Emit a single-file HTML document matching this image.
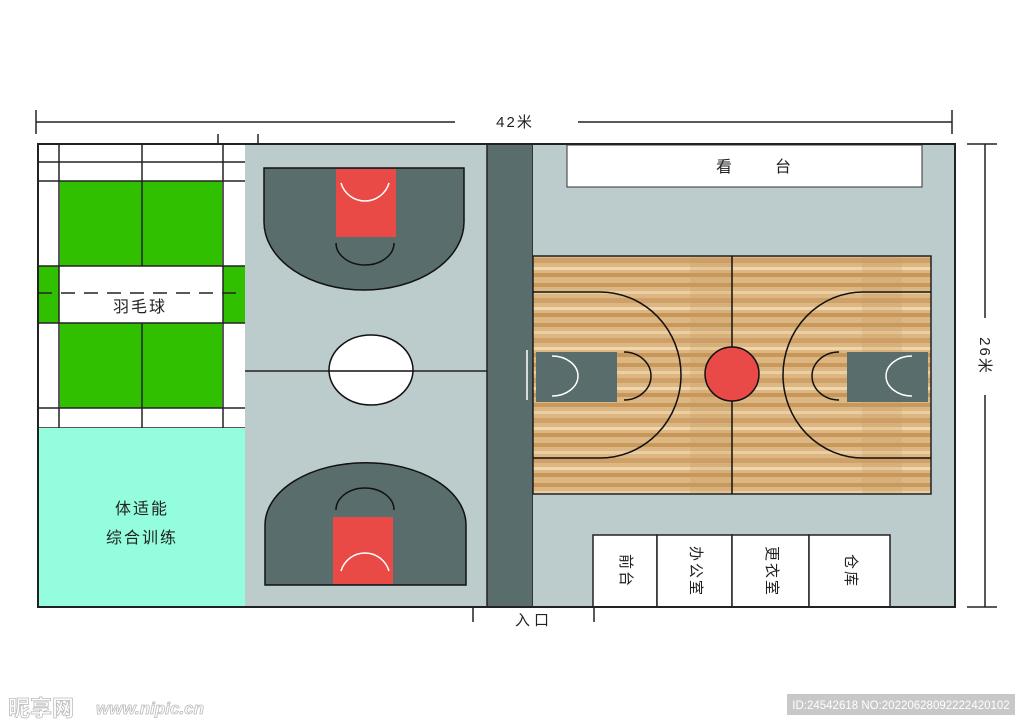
<!DOCTYPE html>
<html><head><meta charset="utf-8"><style>
html,body{margin:0;padding:0;background:#fff;width:1024px;height:724px;overflow:hidden}
svg{display:block}
text{font-family:"Liberation Sans","Noto Sans CJK SC",sans-serif}
.v{writing-mode:vertical-rl;text-orientation:sideways;position:absolute;font-family:"Liberation Sans","Noto Sans CJK SC",sans-serif;font-size:15px;color:#222;letter-spacing:2px}
</style></head><body>
<div style="position:relative;width:1024px;height:724px">
<svg width="1024" height="724" viewBox="0 0 1024 724">
<defs>
<pattern id="wood" width="60" height="40" patternUnits="userSpaceOnUse">
<rect width="60" height="40" fill="#dcb683"/>
<rect y="3" width="60" height="4" fill="#c9995c"/>
<rect y="11" width="60" height="3" fill="#ebcfa2"/>
<rect y="18" width="60" height="5" fill="#cfa068"/>
<rect y="27" width="60" height="3" fill="#efd6ab"/>
<rect y="33" width="60" height="4" fill="#c89658"/>
</pattern>
</defs>
<!-- dimension lines -->
<g stroke="#222" stroke-width="1.5" fill="none">
<line x1="36" y1="122" x2="455" y2="122"/><line x1="578" y1="122" x2="952" y2="122"/>
<line x1="36" y1="110" x2="36" y2="134"/><line x1="952" y1="110" x2="952" y2="134"/>
<line x1="985" y1="144" x2="985" y2="318"/><line x1="985" y1="395" x2="985" y2="607"/>
<line x1="967" y1="144" x2="997" y2="144"/><line x1="967" y1="607" x2="997" y2="607"/>
<line x1="218" y1="134" x2="218" y2="144"/><line x1="258" y1="134" x2="258" y2="144"/>
<line x1="473" y1="607" x2="473" y2="622"/><line x1="594" y1="607" x2="594" y2="622"/>
</g>
<text x="515" y="127" font-size="15" text-anchor="middle" fill="#222" letter-spacing="2">42米</text>
<text x="0" y="0" font-size="15" text-anchor="middle" fill="#222" letter-spacing="2" transform="translate(980,356) rotate(90)">26米</text>
<text x="534" y="625" font-size="15" text-anchor="middle" fill="#222" letter-spacing="4">入口</text>

<!-- badminton -->
<rect x="38" y="144" width="207" height="284" fill="#fff"/>
<rect x="60" y="181" width="162" height="227" fill="#31c000"/>
<rect x="60" y="266" width="162" height="57" fill="#fff"/>
<rect x="38" y="266" width="21" height="57" fill="#31c000"/>
<rect x="223" y="266" width="22" height="57" fill="#31c000"/>
<g stroke="#222" stroke-width="1.5">
<line x1="59" y1="144" x2="59" y2="428"/><line x1="142" y1="144" x2="142" y2="266"/><line x1="142" y1="323" x2="142" y2="428"/>
<line x1="223" y1="144" x2="223" y2="428"/>
<line x1="38" y1="162" x2="245" y2="162"/><line x1="38" y1="181" x2="245" y2="181"/>
<line x1="38" y1="266" x2="245" y2="266"/><line x1="38" y1="323" x2="245" y2="323"/>
<line x1="38" y1="408" x2="245" y2="408"/><line x1="38" y1="428" x2="245" y2="428"/>
<line x1="38" y1="293" x2="245" y2="293" stroke-dasharray="14,9"/>
</g>
<text x="140" y="312" font-size="16" text-anchor="middle" fill="#222" letter-spacing="2">羽毛球</text>
<rect x="38" y="428" width="207" height="179" fill="#94fddd"/>
<text x="142" y="514" font-size="16" text-anchor="middle" fill="#222" letter-spacing="2">体适能</text>
<text x="142" y="543" font-size="16" text-anchor="middle" fill="#222" letter-spacing="2">综合训练</text>

<!-- middle court -->
<rect x="245" y="144" width="242" height="463" fill="#bccbcc"/>
<line x1="245" y1="371" x2="487" y2="371" stroke="#222" stroke-width="1.5"/>
<path d="M264 168 H464 V222 A100 68 0 0 1 264 222 Z" fill="#586d6c" stroke="#111" stroke-width="1.5"/>
<rect x="336" y="169" width="60" height="68" fill="#e94a46"/>
<path d="M341 183 A25 25 0 0 0 389 183" fill="none" stroke="#fff" stroke-width="1.5"/>
<path d="M336 243 A29 22 0 0 0 394 243" fill="none" stroke="#111" stroke-width="1.5"/>
<ellipse cx="371" cy="370" rx="42" ry="35" fill="#fff" stroke="#111" stroke-width="1.5"/>
<line x1="329" y1="371" x2="413" y2="371" stroke="#111" stroke-width="1.5"/>
<path d="M265 585 V525 A100 62 0 0 1 466 525 V585 Z" fill="#586d6c" stroke="#111" stroke-width="1.5"/>
<rect x="333" y="517" width="60" height="67" fill="#e94a46"/>
<path d="M341 571 A25 25 0 0 1 389 571" fill="none" stroke="#fff" stroke-width="1.5"/>
<path d="M336 510 A29 22 0 0 1 394 510" fill="none" stroke="#111" stroke-width="1.5"/>
<rect x="487" y="144" width="46" height="463" fill="#586d6c" stroke="#222" stroke-width="1.5"/>

<!-- right area -->
<rect x="533" y="144" width="422" height="463" fill="#bccbcc"/>
<rect x="567" y="145" width="355" height="42" fill="#fff" stroke="#333" stroke-width="1"/>
<text x="716" y="172" font-size="16" fill="#222">看</text>
<text x="775" y="172" font-size="16" fill="#222">台</text>
<line x1="527" y1="350" x2="527" y2="400" stroke="#fff" stroke-width="1.5"/>
<rect x="533" y="256" width="398" height="238" fill="url(#wood)" stroke="#222" stroke-width="1.5"/>
<rect x="690" y="257" width="42" height="236" fill="#c99a60" opacity="0.25"/>
<rect x="862" y="257" width="40" height="236" fill="#c99a60" opacity="0.25"/>
<g stroke="#111" stroke-width="1.5" fill="none">
<line x1="732" y1="256" x2="732" y2="494"/>
<path d="M533 292 H600 A81 83 0 0 1 600 458 H533"/>
<path d="M931 292 H863 A80 83 0 0 0 863 458 H931"/>
</g>
<rect x="536" y="352" width="81" height="50" fill="#586d6c"/>
<rect x="847" y="352" width="81" height="50" fill="#586d6c"/>
<g fill="none" stroke-width="1.5">
<path d="M624 352 A27 24 0 0 1 624 400" stroke="#111"/>
<path d="M839 352 A27 24 0 0 0 839 400" stroke="#111"/>
<path d="M552 356 A26 20 0 0 1 552 396" stroke="#fff"/>
<path d="M912 356 A26 20 0 0 0 912 396" stroke="#fff"/>
</g>
<circle cx="732" cy="374" r="27" fill="#ea4a47" stroke="#111" stroke-width="1.5"/>
<!-- rooms -->
<g fill="#fff" stroke="#222" stroke-width="1.5">
<rect x="593" y="535" width="64" height="72"/><rect x="657" y="535" width="75" height="72"/>
<rect x="732" y="535" width="77" height="72"/><rect x="809" y="535" width="81" height="72"/>
</g>
<rect x="38" y="144" width="917" height="463" fill="none" stroke="#222" stroke-width="2"/>
<!-- watermark -->
<text x="8" y="716" font-size="22" fill="#fff" stroke="#bbb" stroke-width="0.8" font-weight="bold">昵享网</text>
<text x="96" y="714" font-size="17" fill="#fff" stroke="#bbb" stroke-width="0.8" font-style="italic" font-weight="bold">www.nipic.cn</text>
<rect x="787" y="694" width="228" height="21" fill="#c8c8c8"/>
<text x="901" y="709" font-size="11.5" fill="#fff" text-anchor="middle">ID:24542618 NO:20220628092222420102</text>
</svg>
<div class="v" style="left:616px;top:554px">前台</div>
<div class="v" style="left:686px;top:546px">办公室</div>
<div class="v" style="left:762px;top:546px">更衣室</div>
<div class="v" style="left:841px;top:554px">仓库</div>
</div>
</body></html>
